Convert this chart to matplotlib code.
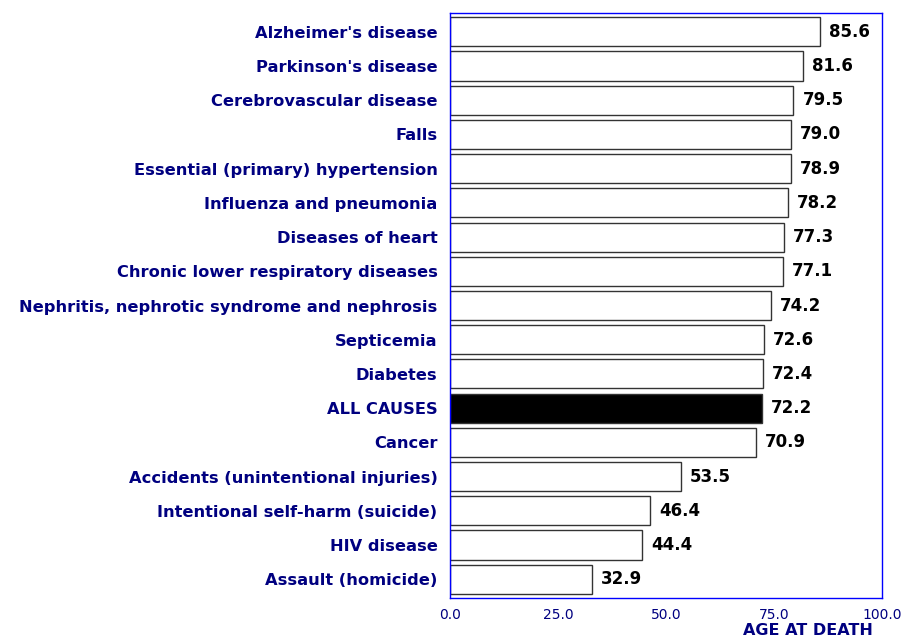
import matplotlib
matplotlib.use("Agg")
import matplotlib.pyplot as plt

categories = ["Alzheimer's disease", "Parkinson's disease", "Cerebrovascular disease", "Falls",
              "Essential (primary) hypertension", "Influenza and pneumonia", "Diseases of heart",
              "Chronic lower respiratory diseases", "Nephritis, nephrotic syndrome and nephrosis",
              "Septicemia", "Diabetes", "ALL CAUSES", "Cancer", "Accidents (unintentional injuries)",
              "Intentional self-harm (suicide)", "HIV disease", "Assault (homicide)"]
values = [85.6, 81.6, 79.5, 79.0, 78.9, 78.2, 77.3, 77.1, 74.2, 72.6, 72.4, 72.2, 70.9, 53.5, 46.4, 44.4, 32.9]
xticks = [0, 25, 50, 75, 100]
xtick_labels = ["0.0", "25.0", "50.0", "75.0", "100.0"]

plt.rcParams['font.family'] = ['DejaVu Sans']
fig = plt.figure(figsize=(9.04, 6.37), dpi=100)
ax = fig.add_axes([450/904, 1-598/637, 432/904, 585/637])

n = len(categories)
ys = list(range(n))
colors = ['black' if c == "ALL CAUSES" else 'white' for c in categories]
ax.barh(ys, values, height=0.85, color=colors, edgecolor='#333333', linewidth=1.0)
ax.set_ylim(n - 0.5 + 0.05, -0.5 - 0.05)
ax.set_xlim(0, 100)
ax.set_yticks(ys)
ax.set_yticklabels(categories, fontsize=11.7, fontweight='bold', color='#000080')
ax.set_xticks(xticks)
ax.set_xticklabels(xtick_labels, fontsize=10, color='#000080')
ax.tick_params(axis='both', length=0)
ax.tick_params(axis='y', pad=9)
ax.tick_params(axis='x', pad=7)
for s in ax.spines.values():
    s.set_color('#0000ff')
    s.set_linewidth(1.0)

for y, v in zip(ys, values):
    ax.text(v + 2.1, y, f"{v:.1f}", va='center', ha='left', fontsize=12, fontweight='bold', color='black')

fig.text(873/904, 1-623/637, "AGE AT DEATH", ha='right', va='top', fontsize=11.5, fontweight='bold', color='#000080')

fig.savefig("out.png", dpi=100)
